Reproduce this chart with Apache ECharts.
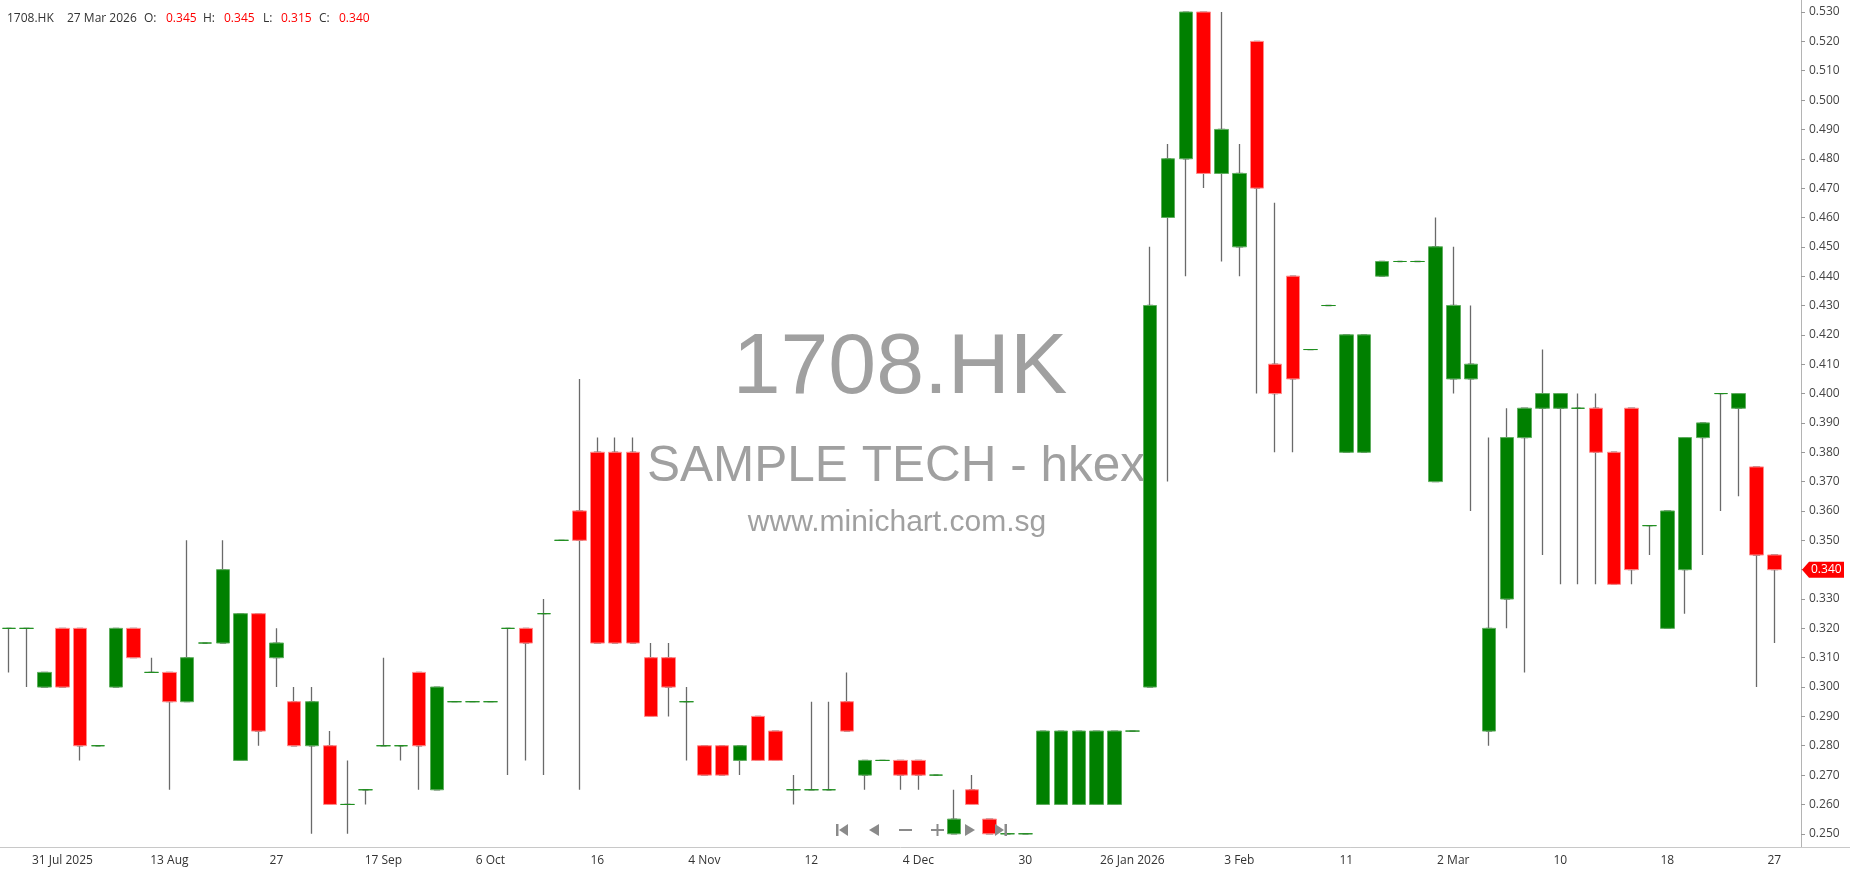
<!DOCTYPE html>
<html>
<head>
<meta charset="utf-8">
<title>1708.HK</title>
<script src="https://cdn.jsdelivr.net/npm/echarts@6.0.0/dist/echarts.min.js"></script>
<style>
html, body { margin: 0; padding: 0; background: #fff; }
#main { width: 1850px; height: 874px; }
</style>
</head>
<body>
<div id="main"></div>
<script>
var symbol = '1708.HK';
var company = 'SAMPLE TECH - hkex';
var site = 'www.minichart.com.sg';
var lastDate = '27 Mar 2026';

// date labels, one every 6 bars starting at bar 3
var tickLabels = ['31 Jul 2025', '13 Aug', '27', '17 Sep', '6 Oct', '16', '4 Nov', '12', '4 Dec',
    '30', '26 Jan 2026', '3 Feb', '11', '2 Mar', '10', '18', '27'];
var yTicks = [0.25, 0.26, 0.27, 0.28, 0.29, 0.30, 0.31, 0.32, 0.33, 0.34, 0.35, 0.36, 0.37, 0.38,
    0.39, 0.40, 0.41, 0.42, 0.43, 0.44, 0.45, 0.46, 0.47, 0.48, 0.49, 0.50, 0.51, 0.52, 0.53];

var open = [
    0.32, 0.32, 0.30, 0.32, 0.32, 0.28, 0.30, 0.32, 0.305, 0.305,
    0.295, 0.315, 0.315, 0.275, 0.325, 0.31, 0.295, 0.28, 0.28, 0.26,
    0.265, 0.28, 0.28, 0.305, 0.265, 0.295, 0.295, 0.295, 0.32, 0.32,
    0.325, 0.35, 0.36, 0.38, 0.38, 0.38, 0.31, 0.31, 0.295, 0.28,
    0.28, 0.275, 0.29, 0.285, 0.265, 0.265, 0.265, 0.295, 0.27, 0.275,
    0.275, 0.275, 0.27, 0.25, 0.265, 0.255, 0.25, 0.25, 0.26, 0.26,
    0.26, 0.26, 0.26, 0.285, 0.30, 0.46, 0.48, 0.53, 0.475, 0.45,
    0.52, 0.41, 0.44, 0.415, 0.43, 0.38, 0.38, 0.44, 0.445, 0.445,
    0.37, 0.405, 0.405, 0.285, 0.33, 0.385, 0.395, 0.395, 0.395, 0.395,
    0.38, 0.395, 0.355, 0.32, 0.34, 0.385, 0.40, 0.395, 0.375, 0.345
];
var close = [
    0.32, 0.32, 0.305, 0.30, 0.28, 0.28, 0.32, 0.31, 0.305, 0.295,
    0.31, 0.315, 0.34, 0.325, 0.285, 0.315, 0.28, 0.295, 0.26, 0.26,
    0.265, 0.28, 0.28, 0.28, 0.30, 0.295, 0.295, 0.295, 0.32, 0.315,
    0.325, 0.35, 0.35, 0.315, 0.315, 0.315, 0.29, 0.30, 0.295, 0.27,
    0.27, 0.28, 0.275, 0.275, 0.265, 0.265, 0.265, 0.285, 0.275, 0.275,
    0.27, 0.27, 0.27, 0.255, 0.26, 0.25, 0.25, 0.25, 0.285, 0.285,
    0.285, 0.285, 0.285, 0.285, 0.43, 0.48, 0.53, 0.475, 0.49, 0.475,
    0.47, 0.40, 0.405, 0.415, 0.43, 0.42, 0.42, 0.445, 0.445, 0.445,
    0.45, 0.43, 0.41, 0.32, 0.385, 0.395, 0.40, 0.40, 0.395, 0.38,
    0.335, 0.34, 0.355, 0.36, 0.385, 0.39, 0.40, 0.40, 0.345, 0.34
];
var low = [
    0.305, 0.30, 0.30, 0.30, 0.275, 0.28, 0.30, 0.31, 0.305, 0.265,
    0.295, 0.315, 0.315, 0.275, 0.28, 0.30, 0.28, 0.25, 0.26, 0.25,
    0.26, 0.28, 0.275, 0.265, 0.265, 0.295, 0.295, 0.295, 0.27, 0.275,
    0.27, 0.35, 0.265, 0.315, 0.315, 0.315, 0.29, 0.29, 0.275, 0.27,
    0.27, 0.27, 0.275, 0.275, 0.26, 0.265, 0.265, 0.285, 0.265, 0.275,
    0.265, 0.265, 0.27, 0.25, 0.26, 0.25, 0.25, 0.25, 0.26, 0.26,
    0.26, 0.26, 0.26, 0.285, 0.30, 0.37, 0.44, 0.47, 0.445, 0.44,
    0.40, 0.38, 0.38, 0.415, 0.43, 0.38, 0.38, 0.44, 0.445, 0.445,
    0.37, 0.40, 0.36, 0.28, 0.32, 0.305, 0.345, 0.335, 0.335, 0.335,
    0.335, 0.335, 0.345, 0.32, 0.325, 0.345, 0.36, 0.365, 0.30, 0.315
];
var high = [
    0.32, 0.32, 0.305, 0.32, 0.32, 0.28, 0.32, 0.32, 0.31, 0.305,
    0.35, 0.315, 0.35, 0.325, 0.325, 0.32, 0.30, 0.30, 0.285, 0.275,
    0.265, 0.31, 0.28, 0.305, 0.30, 0.295, 0.295, 0.295, 0.32, 0.32,
    0.33, 0.35, 0.405, 0.385, 0.385, 0.385, 0.315, 0.315, 0.30, 0.28,
    0.28, 0.28, 0.29, 0.285, 0.27, 0.295, 0.295, 0.305, 0.275, 0.275,
    0.275, 0.275, 0.27, 0.265, 0.27, 0.255, 0.25, 0.25, 0.285, 0.285,
    0.285, 0.285, 0.285, 0.285, 0.45, 0.485, 0.53, 0.53, 0.53, 0.485,
    0.52, 0.465, 0.44, 0.415, 0.43, 0.42, 0.42, 0.445, 0.445, 0.445,
    0.46, 0.45, 0.43, 0.385, 0.395, 0.395, 0.415, 0.40, 0.40, 0.40,
    0.38, 0.395, 0.355, 0.36, 0.385, 0.39, 0.40, 0.40, 0.375, 0.345
];

var UP = '#008000';
var DOWN = '#ff0000';
var FONT = 'Open Sans';

// one spare slot on the right, like the original
var categories = [];
for (var i = 0; i <= open.length; i++) categories.push(i);

function tickText(i) {
    i = +i;
    if (i < 3 || (i - 3) % 6 !== 0) return '';
    return tickLabels[(i - 3) / 6] || '';
}
function hasTick(index) {
    return tickText(index) !== '';
}

// wicks in grey, bodies on top without wicks
var wickData = [];
var bodyData = [];
open.forEach(function (o, k) {
    wickData.push([o, close[k], low[k], high[k]]);
    bodyData.push([o, close[k], Math.min(o, close[k]), Math.max(o, close[k])]);
});

var chart = echarts.init(document.getElementById('main'));

var option = {
    animation: false,
    backgroundColor: '#fff',
    grid: { left: 0, right: 49, top: 0, bottom: 27 },
    xAxis: {
        type: 'category',
        data: categories,
        boundaryGap: true,
        axisLine: { lineStyle: { color: '#c8c8c8' } },
        axisTick: { alignWithLabel: true, interval: hasTick, length: 6, lineStyle: { color: '#c8c8c8' } },
        axisLabel: {
            interval: hasTick,
            formatter: function (v) { return tickText(v); },
            color: '#333',
            fontFamily: FONT,
            fontSize: 12,
            margin: 8
        },
        splitLine: { show: false }
    },
    yAxis: {
        type: 'value',
        position: 'right',
        min: 0.2455,
        max: 0.5341,
        axisLine: { show: true, lineStyle: { color: '#b4b4b4' } },
        axisTick: { show: true, length: 4, customValues: yTicks, lineStyle: { color: '#999' } },
        axisLabel: {
            customValues: yTicks,
            formatter: function (v) { return v.toFixed(3); },
            color: '#444',
            fontFamily: FONT,
            fontSize: 12,
            margin: 8
        },
        splitLine: { show: false }
    },
    series: [
        {
            type: 'candlestick',
            name: 'wick',
            data: wickData,
            barWidth: 6,
            silent: true,
            itemStyle: {
                color: '#6a6a6a', color0: '#6a6a6a',
                borderColor: '#6a6a6a', borderColor0: '#6a6a6a', borderColorDoji: '#6a6a6a',
                borderWidth: 1.3
            }
        },
        {
            type: 'candlestick',
            name: symbol,
            data: bodyData,
            barWidth: 14,
            itemStyle: {
                color: UP, color0: DOWN,
                borderColor: '#5fae5f', borderColor0: '#ff8a8a', borderColorDoji: '#1f8f1f',
                borderWidth: 1
            }
        }
    ]
};
chart.setOption(option);

// overlays: watermark, header line, navigation buttons, last price tag
var last = open.length - 1;
var lastY = chart.convertToPixel({ yAxisIndex: 0 }, close[last]);
var navColor = '#8a8a8a';

function hdr(x, text, color) {
    return {
        type: 'text', x: x, y: 18.5, z: 50,
        style: { text: text, fill: color, font: '12px "' + FONT + '"', textVerticalAlign: 'middle' }
    };
}

var graphics = [
    {
        type: 'text', x: 900, y: 369, z: 0,
        style: { text: symbol, fill: '#a0a0a0', font: '86px "Liberation Sans"', textAlign: 'center', textVerticalAlign: 'middle' }
    },
    {
        type: 'text', x: 896, y: 467, z: 0,
        style: { text: company, fill: '#a0a0a0', font: '49.5px "Liberation Sans"', textAlign: 'center', textVerticalAlign: 'middle' }
    },
    {
        type: 'text', x: 897, y: 523, z: 0,
        style: { text: site, fill: '#a0a0a0', font: '30px "Liberation Sans"', textAlign: 'center', textVerticalAlign: 'middle' }
    },
    hdr(7, symbol, '#333'),
    hdr(67, lastDate, '#333'),
    hdr(144, 'O:', '#333'),
    hdr(166, open[last].toFixed(3), DOWN),
    hdr(203, 'H:', '#333'),
    hdr(224, high[last].toFixed(3), DOWN),
    hdr(263, 'L:', '#333'),
    hdr(281, low[last].toFixed(3), DOWN),
    hdr(319, 'C:', '#333'),
    hdr(339, close[last].toFixed(3), DOWN),
    // navigation buttons
    { type: 'rect', z: 60, shape: { x: 836, y: 824, width: 2.5, height: 12 }, style: { fill: navColor } },
    { type: 'polygon', z: 60, shape: { points: [[848, 824], [848, 836], [839, 830]] }, style: { fill: navColor } },
    { type: 'polygon', z: 60, shape: { points: [[879, 824], [879, 836], [869, 830]] }, style: { fill: navColor } },
    { type: 'rect', z: 60, shape: { x: 899, y: 829, width: 13, height: 2 }, style: { fill: navColor } },
    { type: 'rect', z: 60, shape: { x: 931, y: 829, width: 13, height: 2 }, style: { fill: navColor } },
    { type: 'rect', z: 60, shape: { x: 936.5, y: 824, width: 2, height: 12 }, style: { fill: navColor } },
    { type: 'polygon', z: 60, shape: { points: [[965, 824], [965, 836], [975, 830]] }, style: { fill: navColor } },
    { type: 'polygon', z: 60, shape: { points: [[995, 824], [995, 836], [1004, 830]] }, style: { fill: navColor } },
    { type: 'rect', z: 60, shape: { x: 1004.5, y: 824, width: 2.5, height: 12 }, style: { fill: navColor } },
    // axis line runs on under the price labels
    { type: 'line', z: 60, shape: { x1: 1801, y1: 847.5, x2: 1850, y2: 847.5 }, style: { stroke: '#c8c8c8', lineWidth: 1 } },
    // last price tag
    {
        type: 'polygon', z: 70,
        shape: { points: [[1802, lastY], [1809, lastY - 8], [1844, lastY - 8], [1844, lastY + 8], [1809, lastY + 8]] },
        style: { fill: DOWN }
    },
    {
        type: 'text', x: 1811, y: lastY, z: 71,
        style: { text: close[last].toFixed(3), fill: '#fff', font: '12px "' + FONT + '"', textVerticalAlign: 'middle' }
    }
];
chart.setOption({ graphic: graphics });
</script>
</body>
</html>
